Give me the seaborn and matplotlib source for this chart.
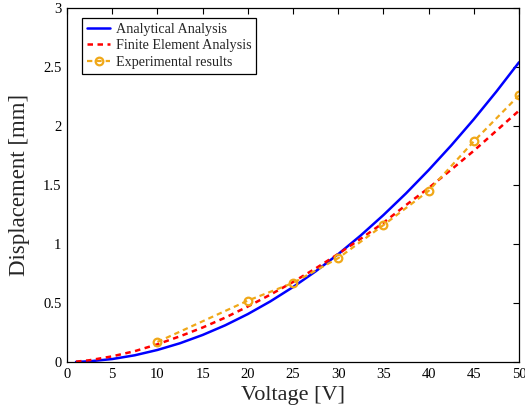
import numpy as np
import pandas as pd
import matplotlib
matplotlib.use("Agg")
import matplotlib.pyplot as plt
import seaborn as sns

# values
voltage_model = [1, 2.5, 5, 7.5, 10, 12.5, 15, 17.5, 20, 22.5, 25, 27.5, 30,
                 32.5, 35, 37.5, 40, 42.5, 45, 47.5, 50]
analytical = [0.001, 0.006, 0.025, 0.057, 0.102, 0.159, 0.229, 0.311, 0.406,
              0.514, 0.635, 0.768, 0.914, 1.073, 1.245, 1.429, 1.626, 1.835,
              2.057, 2.292, 2.540]
fea = [0.003, 0.015, 0.048, 0.092, 0.150, 0.218, 0.292, 0.376, 0.470, 0.571,
       0.678, 0.793, 0.916, 1.045, 1.180, 1.330, 1.474, 1.630, 1.790, 1.960,
       2.130]
voltage_exp = [10, 20, 25, 30, 35, 40, 45, 50]
experimental = [0.17, 0.52, 0.67, 0.88, 1.16, 1.45, 1.87, 2.26]

sns.set_style("white")
plt.rcParams['font.family'] = ['Liberation Serif', 'DejaVu Serif']

df_model = pd.DataFrame({'V': voltage_model, 'ana': analytical, 'fea': fea})
df_exp = pd.DataFrame({'V': voltage_exp, 'exp': experimental})

fig = plt.figure(figsize=(5.25, 4.15), dpi=100)
ax = fig.add_axes([67 / 525, 1 - 362 / 415, (519 - 67) / 525, (362 - 8) / 415])

sns.lineplot(data=df_model, x='V', y='ana', ax=ax, color='#0000ff', lw=1.8,
             label='Analytical Analysis')
sns.lineplot(data=df_model, x='V', y='fea', ax=ax, color='#ff0000', lw=1.8,
             linestyle=(0, (2.2, 1.8)), label='Finite Element Analysis')
sns.lineplot(data=df_exp, x='V', y='exp', ax=ax, color='#f0a818', lw=1.6,
             linestyle=(0, (2.4, 1.8)), marker='o', markersize=5.5,
             markerfacecolor='none', markeredgecolor='#f0a818', markeredgewidth=1.6,
             label='Experimental results')

ax.set_xlim(0, 50)
ax.set_ylim(0, 3)
ax.set_xticks(np.arange(0, 51, 5))
ax.set_yticks([0, 0.5, 1, 1.5, 2, 2.5, 3])
ax.set_yticklabels(['0', '0.5', '1', '1.5', '2', '2.5', '3'])
ax.tick_params(direction='in', length=4, width=0.8, labelsize=10.5, colors='black',
               top=True, right=True, pad=4)
for t in ax.xaxis.get_ticklines()[1::2] + ax.yaxis.get_ticklines()[1::2]:
    t.set_color('#999999')
for s in ax.spines.values():
    s.set_color('black')
    s.set_linewidth(0.9)

ax.set_xlabel('Voltage [V]', fontsize=16, labelpad=4)
ax.set_ylabel('Displacement [mm]', fontsize=16.5, labelpad=9)

leg = ax.legend(loc='upper left', bbox_to_anchor=(0.033, 0.972), borderaxespad=0,
                fontsize=10.2, frameon=True, fancybox=False, edgecolor='black',
                framealpha=1, handlelength=1.65, handletextpad=0.4,
                borderpad=0.35, labelspacing=0.25)
leg.get_frame().set_linewidth(0.9)

fig.savefig('out.png', dpi=100)
